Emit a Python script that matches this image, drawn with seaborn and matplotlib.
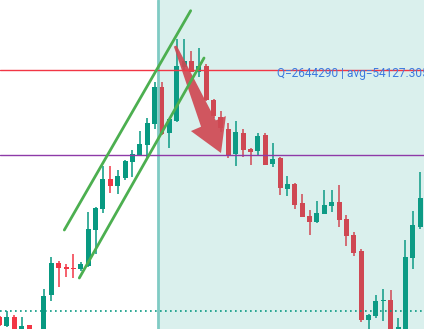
import numpy as np
import pandas as pd
import matplotlib
matplotlib.use("Agg")
import matplotlib.pyplot as plt
import seaborn as sns
from matplotlib.patches import Polygon

# ---- data (candles) ----
opens  = [13, 4, 13, -2, 5, -3, -8, 35, 67, 62.7, 62.5, 61.3, 64, 100, 121, 151, 144.3, 151.7, 168.3, 175,
          185, 206, 242.7, 196.7, 209.3, 263.3, 269, 258.3, 264.3, 230.5, 213.3, 201, 176, 197.3, 181, 179,
          195, 166.3, 172.3, 141, 146, 127, 114, 108, 116, 124, 128, 111, 95, 79, 10, 14, 29, 30, -1, -5, 72, 103]
highs  = [14, 19, 15, 13, 5.5, -1, 41, 73, 69, 66, 76, 68.3, 118, 123.5, 164.5, 164, 160, 170, 180, 199,
          211.7, 247.7, 248, 211, 290.7, 290.7, 279.5, 282.5, 266, 231, 219, 207.5, 209, 201, 182.3, 197.3,
          197.3, 187.3, 173.3, 154.3, 147.3, 136, 120, 129, 140, 140, 145, 115, 98, 81, 16, 35, 41, 40, 12, 90, 119, 158]
lows   = [4, 3, -3, -3, -4, -12, -10, 29, 43, 53, 52, 59, 63, 76, 117, 137.3, 136, 150.5, 153, 174,
          171, 201.5, 195.5, 181.7, 208.3, 259, 258, 252.7, 229.5, 212, 198, 172.3, 164, 173.3, 165, 175,
          165, 163.3, 135, 134, 121, 113, 95, 107, 116, 118, 103, 84, 74, 8, -3, 12, 9, -4, -2, -6, 61, 101]
closes = [5, 13, -2, 4, -3, -10, 34, 67, 62.5, 61.5, 61, 66, 101, 122, 151, 144.3, 154, 169, 176, 186,
          207.3, 242.7, 196, 210.7, 264, 269, 258.3, 264, 230, 214, 202, 174.3, 198.3, 180, 178, 194.3,
          165, 171, 142, 146, 125, 113, 108.3, 117, 125, 128, 110, 94, 77, 10, 15, 29, 30, -2, 3, 73, 105, 132]

level_red = 260
level_purple = 175
level_dotted = 19
split_x = 21.45
channel_upper_x = [8.77, 25.89]
channel_upper_y = [100, 319.3]
channel_lower_x = [10.80, 27.70]
channel_lower_y = [52, 272]
arrow_tail = (23.8, 284)
arrow_tip = (30.0, 177)
label_text = "Q=2644290 | avg=54127.305"
label_pos = (37.55, 252.5)

GREEN = "#089981"
RED = "#f23645"

df = pd.DataFrame({"o": opens, "h": highs, "l": lows, "c": closes})
df["i"] = np.arange(len(df))
df["up"] = df["c"] >= df["o"]
df["col"] = np.where(df["up"], GREEN, RED)

sns.set_theme(style="white")
plt.rcParams["font.family"] = ["Roboto", "DejaVu Sans"]

fig = plt.figure(figsize=(4.24, 3.29), dpi=100)
ax = fig.add_axes([0, 0, 1, 1])
ax.set_xlim(0.054, 57.51)
ax.set_ylim(1, 330)
ax.axis("off")

# wicks
ax.vlines(df["i"], df["l"], df["h"], colors=df["col"], linewidth=1.1, zorder=2)
# bodies
bottoms = np.minimum(df["o"], df["c"])
heights = np.maximum(np.abs(df["c"] - df["o"]), 0.9)
ax.bar(df["i"], heights, bottom=bottoms, width=0.68, color=df["col"], linewidth=0, zorder=2)

# arrow polygon (built in display space)
fig.canvas.draw()
t = ax.transData.transform(arrow_tail)
p = ax.transData.transform(arrow_tip)
d = p - t
L = np.hypot(*d)
u = d / L
n = np.array([-u[1], u[0]])
head_len, head_hw, shaft0, shaft1 = 32, 19, 1.5, 8.0
base = p - u * head_len
pts_disp = np.array([t + n * shaft0, base + n * shaft1, base + n * head_hw, p,
                     base - n * head_hw, base - n * shaft1, t - n * shaft0])
pts = ax.transData.inverted().transform(pts_disp)
ax.add_patch(Polygon(pts, closed=True, facecolor=RED, edgecolor="none", alpha=0.92, zorder=2.5))

# shaded region
ax.axvspan(split_x, 60, color="#26a69a", alpha=0.17, linewidth=0, zorder=3)
ax.axvline(split_x, color="#80cbc4", linewidth=2, zorder=4)

# horizontal levels
ax.axhline(level_red, color=RED, linewidth=1, zorder=4)
ax.axhline(level_purple, color="#8e3aa8", linewidth=1, zorder=4)
ax.axhline(level_dotted, color=GREEN, linewidth=1.2, linestyle=(0, (1, 2)), zorder=4)

# channel lines
sns.lineplot(x=channel_upper_x, y=channel_upper_y, color="#4caf50", linewidth=2, ax=ax, zorder=5)
sns.lineplot(x=channel_lower_x, y=channel_lower_y, color="#4caf50", linewidth=2, ax=ax, zorder=5)

ax.text(label_pos[0], label_pos[1], label_text, color="#3d7be0", fontsize=8.6,
        va="baseline", ha="left", zorder=6)

fig.savefig("out.png", dpi=100)
